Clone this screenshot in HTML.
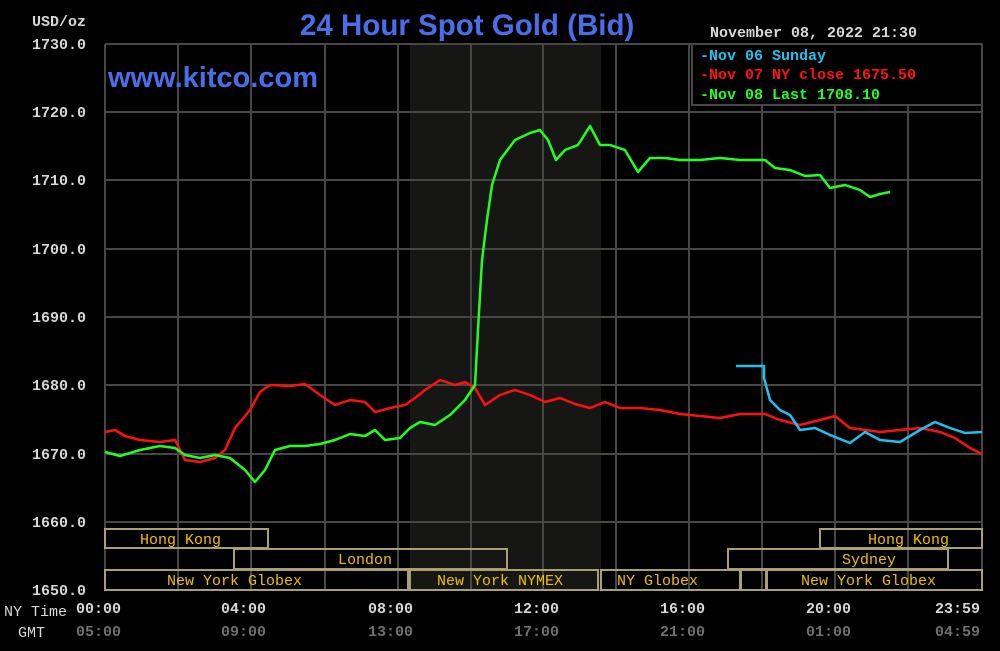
<!DOCTYPE html>
<html><head><meta charset="utf-8"><style>
html,body{margin:0;padding:0;background:#000;}
svg{display:block}
.m{font-family:"Liberation Mono",monospace;font-weight:bold;font-size:15px;}
.s{font-family:"Liberation Mono",monospace;font-size:15px;fill:#f0c000;}
</style></head><body>
<svg width="1000" height="651" viewBox="0 0 1000 651" xmlns="http://www.w3.org/2000/svg">
<rect width="1000" height="651" fill="#000"/>
<rect x="410" y="44" width="191" height="546" fill="#161714"/>
<g stroke="#474747" stroke-width="2">
<line x1="105" y1="44" x2="982" y2="44"/><line x1="105" y1="112" x2="982" y2="112"/><line x1="105" y1="180" x2="982" y2="180"/><line x1="105" y1="249" x2="982" y2="249"/><line x1="105" y1="317" x2="982" y2="317"/><line x1="105" y1="385" x2="982" y2="385"/><line x1="105" y1="454" x2="982" y2="454"/><line x1="105" y1="522" x2="982" y2="522"/><line x1="105" y1="590" x2="982" y2="590"/>
<line x1="105" y1="44" x2="105" y2="590"/><line x1="178" y1="44" x2="178" y2="590"/><line x1="251" y1="44" x2="251" y2="590"/><line x1="325" y1="44" x2="325" y2="590"/><line x1="398" y1="44" x2="398" y2="590"/><line x1="471" y1="44" x2="471" y2="590"/><line x1="543" y1="44" x2="543" y2="590"/><line x1="616" y1="44" x2="616" y2="590"/><line x1="689" y1="44" x2="689" y2="590"/><line x1="762" y1="44" x2="762" y2="590"/><line x1="835" y1="44" x2="835" y2="590"/><line x1="908" y1="44" x2="908" y2="590"/><line x1="982" y1="44" x2="982" y2="590"/>
</g>
<text x="300" y="35" font-family="Liberation Sans,sans-serif" font-weight="bold" font-size="29.5" fill="#4a6ee8">24 Hour Spot Gold (Bid)</text>
<text x="108" y="87" font-family="Liberation Sans,sans-serif" font-weight="bold" font-size="29" fill="#4a6ee8">www.kitco.com</text>
<g class="m" fill="#d8d8d8">
<text x="32" y="26">USD/oz</text>
<text x="32" y="49">1730.0</text><text x="32" y="117">1720.0</text><text x="32" y="185">1710.0</text><text x="32" y="254">1700.0</text><text x="32" y="322">1690.0</text><text x="32" y="390">1680.0</text><text x="32" y="459">1670.0</text><text x="32" y="527">1660.0</text><text x="32" y="595">1650.0</text>
<text x="710" y="37">November 08, 2022 21:30</text>
</g>
<rect x="692" y="44" width="290" height="61" fill="#000" stroke="#474747" stroke-width="2"/>
<g class="m">
<text x="700" y="60" fill="#20c0f0">-Nov 06 Sunday</text>
<text x="700" y="79" fill="#ff1010">-Nov 07 NY close 1675.50</text>
<text x="700" y="99" fill="#20ff20">-Nov 08 Last 1708.10</text>
</g>
<g fill="none" stroke-width="2.5" stroke-linejoin="round">
<polyline stroke="#ff1010" points="105,432 115,430 125,436 140,440 160,442 175,440 185,460 200,462 215,458 225,450 235,428 250,410 260,392 270,385 290,386 305,384 320,395 335,405 350,400 365,402 375,412 390,408 405,405 415,398 425,390 440,380 455,385 465,382 475,388 485,405 500,395 515,390 530,395 545,402 560,398 575,404 590,408 605,402 620,408 640,408 660,410 680,414 700,416 720,418 740,414 765,414 780,420 800,425 820,420 835,416 850,428 865,430 880,432 900,430 920,428 940,432 955,438 970,448 982,454"/>
<polyline stroke="#20c0f0" points="736,366 764,366 764,378 770,400 780,410 790,415 800,430 815,428 830,435 850,443 865,432 880,440 900,442 920,430 935,422 950,428 965,433 982,432"/>
<polyline stroke="#20ff20" points="105,452 120,456 140,450 160,446 175,448 185,455 200,458 215,455 230,458 245,470 255,482 265,470 275,450 290,446 305,446 320,444 335,440 350,434 365,436 375,430 385,440 400,438 410,428 420,422 435,425 450,415 465,400 475,385 478,330 482,260 487,220 492,185 500,160 515,140 530,133 540,130 548,140 556,160 565,150 578,145 590,126 600,145 610,145 625,150 638,172 650,158 665,158 680,160 700,160 720,158 740,160 765,160 775,168 790,170 805,176 820,175 830,188 845,185 860,190 870,197 880,194 890,192"/>
</g>
<g fill="none" stroke="#a8a070" stroke-width="2">
<rect x="105" y="529" width="163" height="19"/>
<rect x="820" y="529" width="162" height="19"/>
<rect x="234" y="549" width="273" height="20"/>
<rect x="728" y="549" width="220" height="20"/>
<rect x="105" y="570" width="303" height="20"/>
<rect x="410" y="570" width="188" height="20"/>
<rect x="601" y="570" width="139" height="20"/>
<rect x="741" y="570" width="25" height="20"/>
<rect x="767" y="570" width="215" height="20"/>
</g>
<g class="s">
<text x="140" y="544">Hong Kong</text>
<text x="868" y="544">Hong Kong</text>
<text x="338" y="564">London</text>
<text x="842" y="564">Sydney</text>
<text x="167" y="585">New York Globex</text>
<text x="437" y="585">New York NYMEX</text>
<text x="617" y="585">NY Globex</text>
<text x="801" y="585">New York Globex</text>
</g>
<g class="m" fill="#d8d8d8">
<text x="4" y="616" font-weight="normal">NY Time</text>
<text x="18" y="637" font-weight="normal">GMT</text>
<text x="76" y="613">00:00</text><text x="221" y="613">04:00</text><text x="368" y="613">08:00</text><text x="514" y="613">12:00</text><text x="660" y="613">16:00</text><text x="806" y="613">20:00</text><text x="935" y="613">23:59</text>
</g>
<g class="m" fill="#707070">
<text x="76" y="636">05:00</text><text x="221" y="636">09:00</text><text x="368" y="636">13:00</text><text x="514" y="636">17:00</text><text x="660" y="636">21:00</text><text x="806" y="636">01:00</text><text x="935" y="636">04:59</text>
</g>
</svg>
</body></html>
